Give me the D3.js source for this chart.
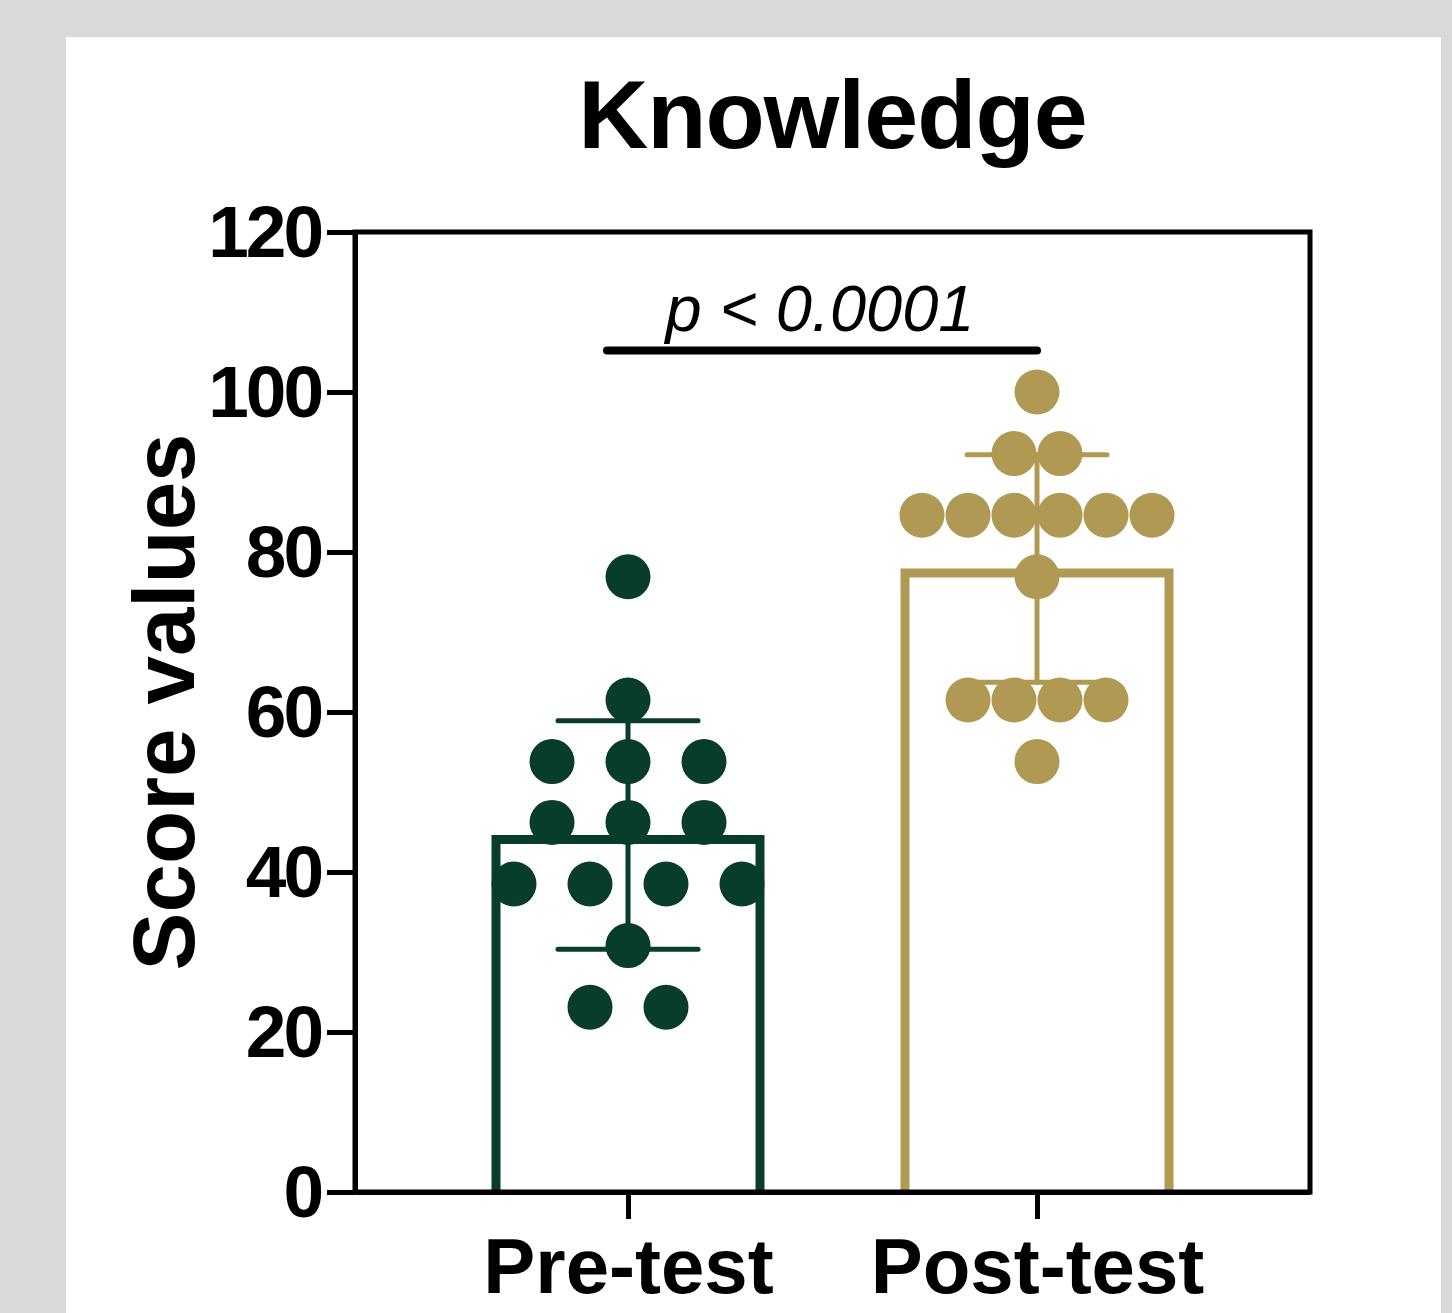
<!DOCTYPE html>
<head>
<meta charset="utf-8">
<style>
body { margin: 0; background: #d9d9d9; }
svg { display: block; }
text { font-family: "Liberation Sans", Arial, Helvetica, sans-serif; }
.axis path, .axis line { stroke: #000; stroke-width: 5px; }
.axis text { font-size: 73px; font-weight: bold; letter-spacing: -3px; fill: #000; }
</style>
</head>
<body>
<svg width="1452" height="1313"></svg>
<script src="https://d3js.org/d3.v7.min.js"></script>
<script>
// data, scores in % (each point is one participant)
var groups = ["Pre-test", "Post-test"];
var preScores = [76.9, 61.5, 53.8, 53.8, 53.8, 46.2, 46.2, 46.2, 38.5, 38.5, 38.5, 38.5, 30.8, 23.1, 23.1];
var postScores = [100, 92.3, 92.3, 84.6, 84.6, 84.6, 84.6, 84.6, 84.6, 76.9, 61.5, 61.5, 61.5, 61.5, 53.8];
var yTicks = [0, 20, 40, 60, 80, 100, 120];
var colors = ["#083c2b", "#af9953"];
var pLabel = "p < 0.0001";
var pBarValue = 105.2;

var scores = [preScores, postScores];

var svg = d3.select("svg");

// white panel
svg.append("rect").attr("x", 66).attr("y", 37).attr("width", 1375).attr("height", 1290).attr("fill", "#fff");

// plot box ("top" is taken by window.top, so use other names)
var pLeft = 355, pRight = 1310, pTop = 232, pBottom = 1192;

var y = d3.scaleLinear().domain([0, 120]).range([pBottom, pTop]);
var x = d3.scalePoint().domain(groups).range([pLeft, pRight]).padding(0.6675);

var barW = 264, sw = 9;
var spacing = [76, 46]; // horizontal spread of the dots in each column

var stats = groups.map(function(g, i) {
  return { g: g, i: i, mean: d3.mean(scores[i]), sd: d3.deviation(scores[i]) };
});

// bars: open at the bottom, outer top edge of the border at the mean
svg.append("g").selectAll("path").data(stats).enter().append("path")
  .attr("d", function(d) {
    var x0 = x(d.g) - barW / 2, x1 = x(d.g) + barW / 2, yt = y(d.mean) + sw / 2;
    return "M" + x0 + "," + y(0) + "V" + yt + "H" + x1 + "V" + y(0);
  })
  .attr("fill", "none")
  .attr("stroke", function(d) { return colors[d.i]; })
  .attr("stroke-width", sw);

// error bars (mean +- SD)
var eb = svg.append("g").attr("stroke-linecap", "round").attr("stroke-width", 5);
stats.forEach(function(d) {
  var cx = x(d.g);
  eb.append("line").attr("x1", cx).attr("x2", cx)
    .attr("y1", y(d.mean - d.sd)).attr("y2", y(d.mean + d.sd)).attr("stroke", colors[d.i]);
  [d.mean - d.sd, d.mean + d.sd].forEach(function(v) {
    eb.append("line").attr("x1", cx - 70).attr("x2", cx + 70)
      .attr("y1", y(v)).attr("y2", y(v)).attr("stroke", colors[d.i]);
  });
});

// dots, spread horizontally within each score level
var dots = [];
groups.forEach(function(g, i) {
  var byVal = d3.group(scores[i], function(v) { return v; });
  byVal.forEach(function(vals, v) {
    vals.forEach(function(_, k) {
      dots.push({ g: g, i: i, v: v, dx: (k - (vals.length - 1) / 2) * spacing[i] });
    });
  });
});

svg.append("g").selectAll("circle").data(dots).enter().append("circle")
  .attr("cx", function(d) { return x(d.g) + d.dx; })
  .attr("cy", function(d) { return y(d.v); })
  .attr("r", 22.5)
  .attr("fill", function(d) { return colors[d.i]; });

// frame
svg.append("rect").attr("x", pLeft).attr("y", pTop).attr("width", pRight - pLeft).attr("height", pBottom - pTop)
  .attr("fill", "none").attr("stroke", "#000").attr("stroke-width", 5);

// axes
var yAxis = svg.append("g").attr("class", "axis")
  .attr("transform", "translate(" + pLeft + ",0)")
  .call(d3.axisLeft(y).tickValues(yTicks).tickSize(28).tickSizeOuter(0).tickPadding(6));
yAxis.selectAll("text").attr("dy", "0.34em");

var xAxis = svg.append("g").attr("class", "axis")
  .attr("transform", "translate(0," + pBottom + ")")
  .call(d3.axisBottom(x).tickSize(27).tickSizeOuter(0).tickPadding(19));
xAxis.selectAll("text").style("font-size", "78px").style("letter-spacing", "0px").attr("dy", "0.71em");

// significance bar
var sy = y(pBarValue);
svg.append("line").attr("x1", x(groups[0]) - 21).attr("x2", x(groups[1]))
  .attr("y1", sy).attr("y2", sy)
  .attr("stroke", "#000").attr("stroke-width", 8).attr("stroke-linecap", "round");
svg.append("text").attr("x", 820).attr("y", sy - 19)
  .attr("text-anchor", "middle").style("font-size", "65px").style("font-style", "italic")
  .text(pLabel);

// titles
svg.append("text").attr("x", (pLeft + pRight) / 2).attr("y", 148)
  .attr("text-anchor", "middle").style("font-size", "97px").style("font-weight", "bold")
  .style("letter-spacing", "-1px").text("Knowledge");

svg.append("text").attr("transform", "translate(194," + ((pTop + pBottom) / 2 - 10) + ") rotate(-90)")
  .attr("text-anchor", "middle").style("font-size", "87px").style("font-weight", "bold")
  .text("Score values");
</script>
</body>
